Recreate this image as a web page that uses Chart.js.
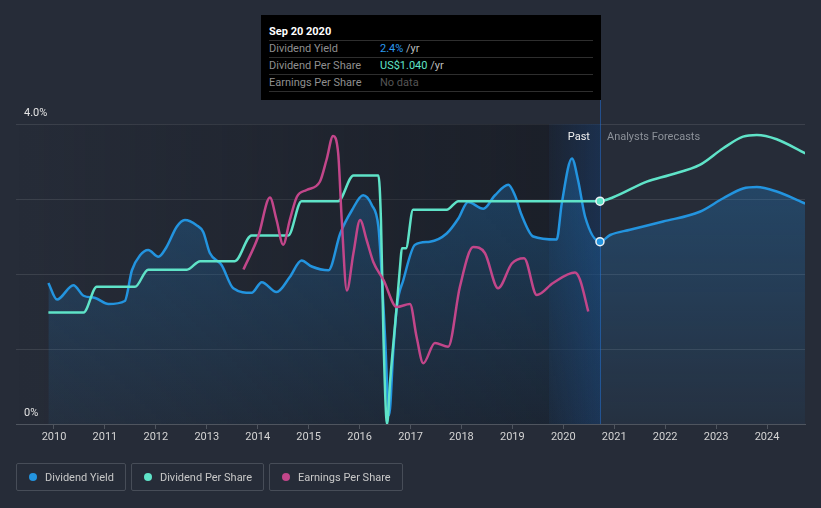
<!DOCTYPE html>
<html>
<head>
<meta charset="utf-8">
<script src="https://cdn.jsdelivr.net/npm/chart.js@4"></script>
<style>
html,body{margin:0;padding:0;background:#262c38;width:821px;height:508px;overflow:hidden;font-family:Roboto,"Noto Sans",sans-serif;}
#wrap{position:relative;width:821px;height:508px;}
#c{position:absolute;left:0;top:0;}
#tip{position:absolute;left:261px;top:15px;width:340px;height:85px;background:#000;font-size:11px;z-index:2;}
#tip .t{position:absolute;left:8px;top:10px;color:#fff;font-weight:bold;line-height:14px;}
#tip .sep{position:absolute;left:8px;width:324px;height:1px;background:#2e2e2e;}
#tip .lab{position:absolute;left:8px;color:#8f8f8f;line-height:14px;}
#tip .val{position:absolute;left:119px;color:#bdbdbd;line-height:14px;}
#legend{position:absolute;left:16px;top:463px;display:flex;gap:5px;z-index:2;}
.item{display:flex;align-items:center;height:26px;border:1px solid #474d58;border-radius:2px;padding:0 11px 0 12px;color:#c8c8c8;font-size:11px;}
.dot{width:8px;height:8px;border-radius:50%;margin-right:8px;}
</style>
</head>
<body>
<div id="wrap">
<canvas id="c" width="821" height="508"></canvas>
<div id="tip"></div>
<div id="legend"></div>
</div>
<script>
// ---- data (years as decimal years) ----
const seriesNames = ['Dividend Yield', 'Dividend Per Share', 'Earnings Per Share'];
const seriesColors = ['#2394df', '#5fe3c8', '#c2468a'];

const yieldYears = [2009.89,2010.06,2010.38,2010.58,2010.81,2011.07,2011.39,2011.53,2011.69,2011.85,2012.05,2012.21,2012.41,2012.57,2012.80,2012.93,2013.06,2013.29,2013.52,2013.88,2014.08,2014.37,2014.63,2014.86,2015.06,2015.39,2015.62,2015.85,2016.07,2016.24,2016.37,2016.43,2016.50,2016.58,2016.66,2016.73,2016.86,2017.09,2017.38,2017.71,2017.94,2018.13,2018.43,2018.66,2018.92,2019.05,2019.18,2019.41,2019.87,2019.97,2020.17,2020.29,2020.43,2020.72,2020.92,2021.31,2021.96,2022.68,2023.14,2023.53,2023.80,2024.19,2024.75];
const yieldValues = [1.88,1.66,1.85,1.71,1.68,1.60,1.64,2.05,2.25,2.32,2.23,2.36,2.63,2.72,2.65,2.56,2.28,2.12,1.81,1.75,1.89,1.76,1.96,2.18,2.10,2.05,2.54,2.85,3.05,2.92,2.63,2.05,1.16,0.12,0.95,1.56,1.92,2.39,2.43,2.54,2.74,2.96,2.87,3.05,3.19,3.05,2.79,2.50,2.46,2.94,3.54,3.25,2.76,2.431,2.52,2.59,2.70,2.83,3.01,3.14,3.16,3.10,2.94];

const dpsYears = [2009.89,2010.58,2010.84,2011.59,2011.85,2012.61,2012.87,2013.55,2013.88,2014.60,2014.86,2015.58,2015.88,2016.37,2016.42,2016.47,2016.54,2016.60,2016.73,2016.80,2016.83,2016.91,2017.05,2017.71,2017.94,2020.72,2020.98,2021.64,2022.09,2022.68,2023.14,2023.53,2023.80,2024.19,2024.75];
const dpsValues = [0.52,0.52,0.64,0.64,0.72,0.72,0.76,0.76,0.88,0.88,1.04,1.04,1.16,1.16,0.95,0.40,0.00,0.20,0.55,0.75,0.82,0.82,1.00,1.00,1.04,1.04,1.058,1.131,1.162,1.209,1.287,1.341,1.349,1.329,1.263];

const epsYears = [2013.72,2014.01,2014.24,2014.37,2014.50,2014.63,2014.77,2014.96,2015.22,2015.35,2015.48,2015.58,2015.65,2015.75,2015.88,2016.01,2016.14,2016.27,2016.47,2016.73,2016.99,2017.12,2017.25,2017.48,2017.74,2017.97,2018.23,2018.46,2018.72,2018.99,2019.23,2019.48,2019.80,2020.23,2020.33,2020.49];
const epsValues = [2.06,2.50,3.02,2.72,2.39,2.72,3.03,3.12,3.23,3.52,3.84,3.61,2.72,1.78,2.28,2.72,2.45,2.16,1.92,1.56,1.60,1.16,0.81,1.08,1.03,1.83,2.36,2.28,1.81,2.14,2.21,1.72,1.88,2.02,1.92,1.50];

const tickYears = [2010,2011,2012,2013,2014,2015,2016,2017,2018,2019,2020,2021,2022,2023,2024];
const yTickValues = [0, 4];
const yTickLabels = ['0%', '4.0%'];

const highlightYear = 2020.72;
const highlightDate = 'Sep 20 2020';
const xMin = 2009.254, xMax = 2024.746;

const toPts = (xs, ys) => xs.map((x, i) => ({x, y: ys[i]}));
const isHl = ctx => ctx.raw && ctx.raw.x === highlightYear;

// ---- tooltip & legend (HTML) ----
const yHl = yieldValues[yieldYears.indexOf(highlightYear)];
const dHl = dpsValues[dpsYears.indexOf(highlightYear)];
const tip = document.getElementById('tip');
tip.innerHTML =
  '<div class="t">' + highlightDate + '</div>' +
  '<div class="sep" style="top:25px"></div>' +
  '<div class="lab" style="top:27px">' + seriesNames[0] + '</div>' +
  '<div class="val" style="top:27px"><span style="color:#2b9af0">' + yHl.toFixed(1) + '%</span> /yr</div>' +
  '<div class="sep" style="top:42px"></div>' +
  '<div class="lab" style="top:44px">' + seriesNames[1] + '</div>' +
  '<div class="val" style="top:44px"><span style="color:#5fe3c8">US$' + dHl.toFixed(3) + '</span> /yr</div>' +
  '<div class="sep" style="top:59px"></div>' +
  '<div class="lab" style="top:61px">' + seriesNames[2] + '</div>' +
  '<div class="val" style="top:61px;color:#555">No data</div>' +
  '<div class="sep" style="top:76px"></div>';

const legend = document.getElementById('legend');
seriesNames.forEach((n, i) => {
  const d = document.createElement('div');
  d.className = 'item';
  d.innerHTML = '<span class="dot" style="background:' + seriesColors[i] + '"></span>' + n;
  legend.appendChild(d);
});

// ---- background plugin ----
const bgPlugin = {
  id: 'bgBands',
  beforeDatasetsDraw(chart) {
    const {ctx, chartArea: a, scales: {x}} = chart;
    const xd = x.getPixelForValue(highlightYear);
    const xb = x.getPixelForValue(highlightYear - 1);
    ctx.save();
    let g = ctx.createLinearGradient(a.left, 0, xd, 0);
    g.addColorStop(0, 'rgba(12,14,20,0)');
    g.addColorStop(1, 'rgba(12,14,20,0.45)');
    ctx.fillStyle = g;
    ctx.fillRect(a.left, a.top, xd - a.left, a.bottom - a.top);
    g = ctx.createLinearGradient(xb, 0, xd, 0);
    g.addColorStop(0, 'rgba(33,120,230,0.05)');
    g.addColorStop(1, 'rgba(33,120,230,0.2)');
    ctx.fillStyle = g;
    ctx.fillRect(xb, a.top, xd - xb, a.bottom - a.top);
    ctx.strokeStyle = 'rgba(33,110,210,0.55)';
    ctx.lineWidth = 1;
    ctx.beginPath();
    ctx.moveTo(Math.round(xd) + 0.5, a.top - 40);
    ctx.lineTo(Math.round(xd) + 0.5, a.bottom);
    ctx.stroke();
    ctx.font = '11px Roboto, "Noto Sans", sans-serif';
    ctx.textBaseline = 'middle';
    ctx.fillStyle = '#f2f2f2';
    ctx.textAlign = 'right';
    ctx.fillText('Past', xd - 10, a.top + 13);
    ctx.fillStyle = '#8c9199';
    ctx.textAlign = 'left';
    ctx.fillText('Analysts Forecasts', xd + 7, a.top + 13);
    ctx.restore();
  }
};

const fillGrad = (ctx) => {
  const ch = ctx.chart;
  const a = ch.chartArea;
  if (!a) return 'rgba(33,150,243,0.15)';
  const g = ch.ctx.createLinearGradient(0, a.top + 70, 0, a.bottom);
  g.addColorStop(0, 'rgba(33,150,243,0.24)');
  g.addColorStop(1, 'rgba(33,150,243,0.05)');
  return g;
};

const font = {family: 'Roboto, "Noto Sans", sans-serif', size: 11};

new Chart(document.getElementById('c'), {
  type: 'line',
  data: {
    datasets: [
      {
        label: seriesNames[2], data: toPts(epsYears, epsValues), yAxisID: 'yEps',
        borderColor: seriesColors[2], borderWidth: 2.5, fill: false, order: 0,
        pointRadius: 0, cubicInterpolationMode: 'monotone'
      },
      {
        label: seriesNames[1], data: toPts(dpsYears, dpsValues), yAxisID: 'yDps',
        borderColor: seriesColors[1], borderWidth: 2.5, fill: false, order: 1,
        cubicInterpolationMode: 'monotone',
        pointRadius: c => isHl(c) ? 4 : 0,
        pointBackgroundColor: seriesColors[1], pointBorderColor: '#eef2f5', pointBorderWidth: 1.5
      },
      {
        label: seriesNames[0], data: toPts(yieldYears, yieldValues), yAxisID: 'y',
        borderColor: seriesColors[0], borderWidth: 2.5, order: 2,
        fill: 'origin', backgroundColor: fillGrad,
        cubicInterpolationMode: 'monotone',
        pointRadius: c => isHl(c) ? 4 : 0,
        pointBackgroundColor: seriesColors[0], pointBorderColor: '#eef2f5', pointBorderWidth: 1.5
      }
    ]
  },
  options: {
    responsive: false,
    animation: false,
    events: [],
    layout: {padding: {left: 16, right: 16, top: 124, bottom: 54}},
    plugins: {legend: {display: false}, tooltip: {enabled: false}},
    scales: {
      x: {
        type: 'linear', min: xMin, max: xMax,
        afterFit(s) { s.height = 30; },
        grid: {drawOnChartArea: false, drawTicks: true, tickLength: 5, color: '#4f555f'},
        border: {display: true, color: '#4f555f'},
        ticks: {
          stepSize: 1, includeBounds: false, autoSkip: false, maxRotation: 0, padding: 2,
          color: '#d4d4d4', font,
          callback: v => tickYears.includes(v) ? String(v) : ''
        }
      },
      y: {
        min: 0, max: 4,
        afterFit(s) { s.width = 0; },
        grid: {color: 'rgba(255,255,255,0.1)', drawTicks: false},
        border: {display: false},
        ticks: {
          stepSize: 1, mirror: true, padding: 8, labelOffset: -11,
          color: '#e4e4e4', font,
          callback: v => { const i = yTickValues.indexOf(v); return i >= 0 ? yTickLabels[i] : ''; }
        }
      },
      yDps: {display: false, min: 0, max: 1.4},
      yEps: {display: false, min: 0, max: 4}
    }
  },
  plugins: [bgPlugin]
});
</script>
</body>
</html>
